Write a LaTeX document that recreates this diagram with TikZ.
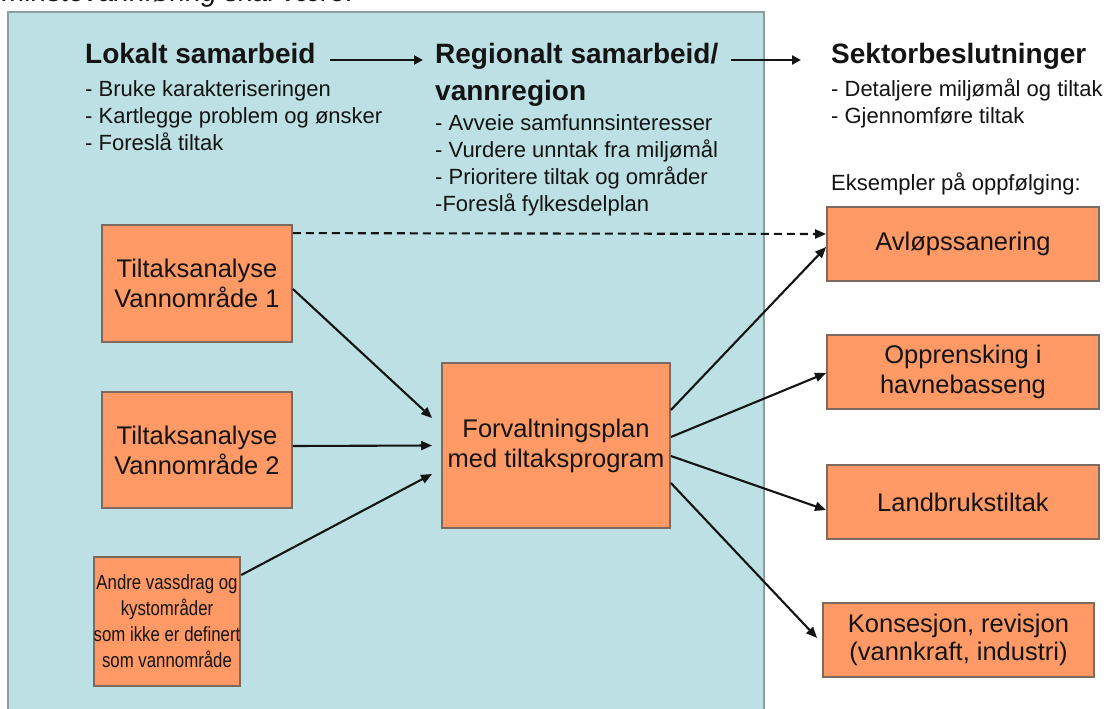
\documentclass[tikz,border=0pt]{standalone}
\usepackage{fontspec}
\setmainfont{Liberation Sans}
\newfontfamily\narrowfont[FakeStretch=0.82]{Liberation Sans}
\usetikzlibrary{arrows.meta}
\definecolor{panel}{RGB}{188,224,227}
\definecolor{panelline}{RGB}{140,158,160}
\definecolor{boxfill}{RGB}{255,153,102}
\definecolor{boxline}{RGB}{125,105,95}
\definecolor{ink}{RGB}{20,20,20}
\begin{document}
\begin{tikzpicture}[x=1pt,y=-1pt,
  box/.style={draw=boxline, line width=1.8pt, fill=boxfill, align=center, inner sep=0pt,
              font=\fontsize{25.5}{30}\selectfont, text=ink},
  head/.style={anchor=base west, inner sep=0pt, font=\bfseries\fontsize{28}{34}\selectfont, text=ink},
  items/.style={anchor=base west, inner sep=0pt, align=left, font=\fontsize{22}{26.7}\selectfont, text=ink},
  link/.style={line width=2.1pt, draw=ink, -{Triangle[length=11pt,width=9pt]}},
  toparrow/.style={line width=2.8pt, draw=ink, -{Triangle[length=9pt,width=9pt]}},
]
\useasboundingbox (0,0) rectangle (1112,709);
\fill[white] (0,0) rectangle (1112,709);
\draw[panelline, fill=panel, line width=2pt] (8,12) rectangle (764,720);

% cut-off text at the top
\node[anchor=base west, inner sep=0pt, font=\itshape\fontsize{28}{30}\selectfont, text=ink] (cut) at (2,2) {minstevannføring skal være.};

% headers
\node[head] (lok) at (85,64) {Lokalt samarbeid};
\node[head] (reg) at (435,64) {Regionalt samarbeid/};
\node[head] (reg2) at (435,101) {vannregion};
\node[head] (sek) at (831,64) {Sektorbeslutninger};

% multi-line lists: the base anchor is the baseline of the last line
\node[items] (lokl) at (85,150) {- Bruke karakteriseringen\\- Kartlegge problem og ønsker\\- Foreslå tiltak};
\node[items] (regl) at (435,211) {- Avveie samfunnsinteresser\\- Vurdere unntak fra miljømål\\- Prioritere tiltak og områder\\-Foreslå fylkesdelplan};
\node[items] (sekl) at (831,123.5) {- Detaljere miljømål og tiltak\\- Gjennomføre tiltak};
\node[items] (eks) at (831,190) {Eksempler på oppfølging:};

\draw[toparrow] ([xshift=14pt,yshift=4pt]lok.base east) -- ([xshift=-12pt,yshift=4pt]reg.base west);
\draw[toparrow] ([xshift=12pt,yshift=4pt]reg.base east) -- ([xshift=-30pt,yshift=4pt]sek.base west);

% boxes
\node[box, minimum width=190pt, minimum height=117pt] (t1) at (197,283.5) {Tiltaksanalyse\\Vannområde 1};
\node[box, minimum width=190pt, minimum height=116pt] (t2) at (197,450) {Tiltaksanalyse\\Vannområde 2};
\node[box, minimum width=142pt, minimum height=129pt, font=\narrowfont\fontsize{20.5}{26}\selectfont] (andre) at (167,621.5)
  {Andre vassdrag og\\kystområder\\som ikke er definert\\som vannområde};
\node[box, minimum width=228pt, minimum height=165pt] (fp) at (556,445.5) {Forvaltningsplan\\med tiltaksprogram};

\node[box, minimum width=272pt, minimum height=74pt] (avl) at (963,244) {Avløpssanering};
\node[box, minimum width=272pt, minimum height=74pt] (opp) at (963,372) {Opprensking i\\havnebasseng};
\node[box, minimum width=272pt, minimum height=74pt] (lan) at (963,502) {Landbrukstiltak};
\node[box, minimum width=271pt, minimum height=74pt, font=\fontsize{25.5}{28}\selectfont] (kon) at (958.5,640) {Konsesjon, revisjon\\(vannkraft, industri)};

% connectors
\draw[link, dash pattern=on 8pt off 5pt] ([yshift=-9pt]t1.north east) -- ([yshift=10pt]avl.west);
\draw[link] ([yshift=-5.5pt]t1.east) -- ([xshift=-9pt,yshift=27.5pt]fp.west);
\draw[link] ([yshift=4pt]t2.east) -- ([xshift=-9pt]fp.west);
\draw[link] ([yshift=46.5pt]andre.east) -- ([xshift=-9pt,yshift=-28.5pt]fp.west);

\draw[link] ([yshift=35.5pt]fp.east) -- ([yshift=-3pt]avl.west);
\draw[link] ([yshift=8.5pt]fp.east) -- ([yshift=-1pt]opp.west);
\draw[link] ([yshift=-10.5pt]fp.east) -- ([yshift=-8pt]lan.west);
\draw[link] ([yshift=-37.5pt]fp.east) -- ([xshift=-5pt,yshift=2pt]kon.west);
\end{tikzpicture}
\end{document}
